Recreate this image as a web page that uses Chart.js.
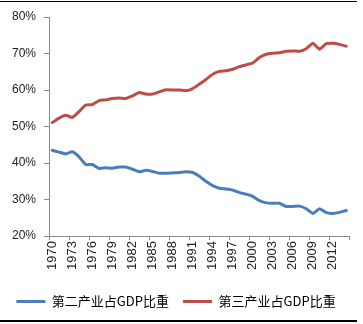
<!DOCTYPE html>
<html>
<head>
<meta charset="utf-8">
<script src="https://cdn.jsdelivr.net/npm/chart.js@4"></script>
<style>
    html, body { margin: 0; padding: 0; background: #fff; }
    #wrap { position: relative; width: 363px; height: 324px; }
    #frame {
        position: absolute; left: 0; top: 1px; width: 357px; height: 318px;
        border-top: 1px solid #000; border-bottom: 2px solid #000;
        pointer-events: none;
    }
</style>
</head>
<body>
<div id="wrap">
    <canvas id="chart" width="363" height="324"></canvas>
    <div id="frame"></div>
</div>
<script>
// ===== DATA =====
const years = [];
for (let y = 1970; y <= 2014; y++) years.push(String(y));

const seriesNames = ['第二产业占GDP比重', '第三产业占GDP比重'];

// 第二产业 (%)
const secondary = [
    43.5, 43.0, 42.5, 43.1, 41.7, 39.6, 39.6, 38.5, 38.7, 38.6,
    38.9, 38.9, 38.3, 37.6, 38.0, 37.7, 37.2, 37.2, 37.3, 37.4,
    37.6, 37.4, 36.4, 35.0, 33.8, 33.1, 32.9, 32.6, 31.9, 31.5,
    30.9, 29.7, 29.1, 29.0, 29.0, 28.1, 28.1, 28.2, 27.5, 26.2,
    27.5, 26.4, 26.2, 26.5, 27.0
];

// 第三产业 (%)
const tertiary = [
    51.1, 52.3, 53.1, 52.5, 54.1, 55.9, 56.0, 57.1, 57.3, 57.7,
    57.8, 57.7, 58.4, 59.3, 58.9, 58.9, 59.5, 60.1, 60.0, 60.0,
    59.8, 60.4, 61.6, 62.9, 64.3, 65.1, 65.3, 65.7, 66.4, 66.9,
    67.4, 68.9, 69.8, 70.1, 70.2, 70.6, 70.7, 70.6, 71.3, 72.8,
    71.2, 72.7, 72.8, 72.5, 72.0
];

const yTicks = { min: 20, max: 80, step: 10 };
const labelEvery = 3;

// ===== STYLE =====
const BLUE = '#4a7ebb';
const RED = '#be4b48';
const AXIS = '#8c8c8c';
const FONT = "'Liberation Sans', Arial, 'Noto Sans CJK SC', sans-serif";

const chart = new Chart(document.getElementById('chart'), {
    type: 'line',
    data: {
        labels: years,
        datasets: [
            { label: seriesNames[0], data: secondary, borderColor: BLUE, backgroundColor: BLUE },
            { label: seriesNames[1], data: tertiary, borderColor: RED, backgroundColor: RED }
        ]
    },
    options: {
        responsive: false,
        animation: false,
        devicePixelRatio: 1,
        layout: { padding: { left: 0, right: 11, top: 17, bottom: 6 } },
        elements: {
            point: { radius: 0 },
            line: { borderWidth: 3, tension: 0.15, borderCapStyle: 'round', borderJoinStyle: 'round' }
        },
        plugins: {
            tooltip: { enabled: false },
            legend: {
                position: 'bottom',
                labels: {
                    boxWidth: 29,
                    boxHeight: 3,
                    padding: 14,
                    color: '#222',
                    font: { family: "'Noto Sans CJK SC', " + FONT, size: 13 },
                    generateLabels: c => c.data.datasets.map((ds, i) => ({
                        text: ds.label,
                        fillStyle: ds.borderColor,
                        strokeStyle: ds.borderColor,
                        lineWidth: 0,
                        hidden: false,
                        datasetIndex: i
                    }))
                }
            }
        },
        scales: {
            x: {
                offset: true,
                afterFit: s => { s.height += 10; },
                grid: {
                    offset: true,
                    drawOnChartArea: false,
                    tickLength: 4,
                    tickColor: c => (c.index === undefined || c.index % labelEvery === 0) ? AXIS : 'rgba(0,0,0,0)'
                },
                border: { color: AXIS, width: 1 },
                ticks: {
                    autoSkip: false,
                    minRotation: 90,
                    maxRotation: 90,
                    padding: 1,
                    color: '#222',
                    font: { family: FONT, size: 13 },
                    callback: function(v, i) { return i % labelEvery === 0 ? this.getLabelForValue(v) : ''; }
                }
            },
            y: {
                min: yTicks.min,
                max: yTicks.max,
                afterFit: s => { s.width = 49; },
                grid: { drawOnChartArea: false, tickLength: 5, color: AXIS },
                border: { color: AXIS, width: 1 },
                ticks: {
                    stepSize: yTicks.step,
                    padding: 8,
                    color: '#222',
                    font: { family: FONT, size: 12 },
                    callback: v => v + '%'
                }
            }
        }
    }
});
</script>
</body>
</html>
